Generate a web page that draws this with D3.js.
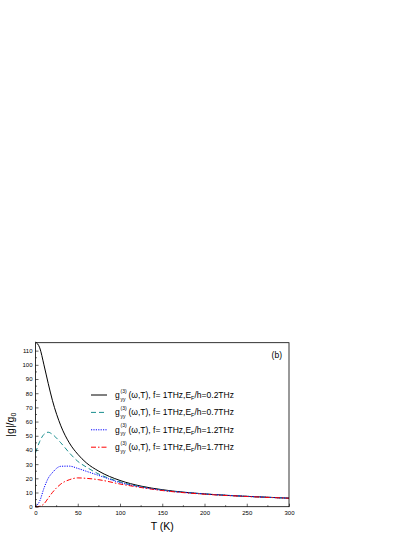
<!DOCTYPE html>
<html><head><meta charset="utf-8">
<script src="https://cdn.jsdelivr.net/npm/d3@7"></script>
<style>body{margin:0;background:#fff}text{font-family:Arial,"Liberation Sans",sans-serif}</style>
</head><body><svg id="c" width="415" height="537"></svg>
<script>
const tK = [0, 5, 10, 15, 20, 30, 40, 50, 60, 75, 100, 125, 150, 200, 250, 300];
const black = [116, 112, 100, 87, 75, 57, 45, 37, 31, 25, 18.5, 14.5, 12, 9, 7.3, 6];
const teal = [38, 46, 51, 52.5, 51, 45, 38, 32, 28, 23, 17.5, 14, 11.7, 9, 7.3, 6];
const blue = [0, 4, 13, 20, 24, 28.5, 28.6, 27, 25, 22, 17, 13.8, 11.6, 9, 7.3, 6];
const red = [0, 0.3, 2, 6, 10, 16, 19, 20.3, 20, 19, 16, 13.5, 11.4, 8.8, 7.2, 6];
const efLabels = ["0.2", "0.7", "1.2", "1.7"];
const series = [
  {v: black, color: "#000", dash: null},
  {v: teal, color: "#1a8f8f", dash: "5,3"},
  {v: blue, color: "#0000ff", dash: "1.2,1.2"},
  {v: red, color: "#ff0000", dash: "5,2,1.5,2"}
];
const svg = d3.select("#c");
const L = 35.5, R = 289, T = 342.7, B = 506.7;
const x = d3.scaleLinear().domain([0, 300]).range([L, R]);
const y = d3.scaleLinear().domain([0, 115.6]).range([B, T]);
const line = d3.line().curve(d3.curveMonotoneX);
series.forEach(s => {
  svg.append("path").attr("fill", "none").attr("stroke", s.color).attr("stroke-width", 1)
    .attr("stroke-dasharray", s.dash)
    .attr("d", line(tK.map((t, i) => [x(t), y(s.v[i])])));
});
svg.append("rect").attr("x", L).attr("y", T).attr("width", R - L).attr("height", B - T)
  .attr("fill", "none").attr("stroke", "#000").attr("stroke-width", 0.8);
const xa = svg.append("g").attr("transform", `translate(0,${B})`)
  .call(d3.axisBottom(x).tickValues(d3.range(0, 301, 50)).tickSize(-3).tickPadding(4));
const ya = svg.append("g").attr("transform", `translate(${L},0)`)
  .call(d3.axisLeft(y).tickValues(d3.range(0, 111, 10)).tickSize(-3).tickPadding(3));
svg.append("g").selectAll("line").data(d3.range(25, 300, 50)).join("line")
  .attr("x1", d => x(d)).attr("x2", d => x(d)).attr("y1", B).attr("y2", B - 1.5).attr("stroke", "#000").attr("stroke-width", 0.6);
svg.append("g").selectAll("line").data(d3.range(5, 115, 10)).join("line")
  .attr("x1", L).attr("x2", L + 1.5).attr("y1", d => y(d)).attr("y2", d => y(d)).attr("stroke", "#000").attr("stroke-width", 0.6);
[xa, ya].forEach(a => { a.select(".domain").remove(); a.selectAll("line").attr("stroke-width", 0.6); a.selectAll("text").attr("font-size", 6).attr("font-family", "Arial"); });
svg.append("text").attr("x", (L + R) / 2).attr("y", 530).attr("text-anchor", "middle").attr("font-size", 10.5).text("T (K)");
const yl = svg.append("text").attr("transform", `translate(14,${(T + B) / 2}) rotate(-90)`).attr("text-anchor", "middle").attr("font-size", 10.5);
yl.append("tspan").text("|g|/g");
yl.append("tspan").attr("font-size", 7).attr("dy", 2).text("0");
svg.append("text").attr("x", 282).attr("y", 358).attr("text-anchor", "end").attr("font-size", 8.5).text("(b)");
const ly0 = 395, ldy = 17.4;
series.forEach((s, i) => {
  const yy = ly0 + i * ldy;
  svg.append("line").attr("x1", 91).attr("x2", 107).attr("y1", yy).attr("y2", yy)
    .attr("stroke", s.color).attr("stroke-dasharray", s.dash);
  svg.append("text").attr("x", 115).attr("y", yy + 3).attr("font-size", 8.5).text("g");
  svg.append("text").attr("x", 120.5).attr("y", yy - 2.5).attr("font-size", 5).text("(3)");
  svg.append("text").attr("x", 120.5).attr("y", yy + 5.5).attr("font-size", 5).text("yy");
  const t = svg.append("text").attr("x", 128.5).attr("y", yy + 3).attr("font-size", 8.5);
  t.append("tspan").text("(ω,T), f= 1THz,E");
  t.append("tspan").attr("font-size", 5.5).attr("dy", 2).text("F");
  t.append("tspan").attr("dy", -2).text(`/h=${efLabels[i]}THz`);
});
</script></body></html>
